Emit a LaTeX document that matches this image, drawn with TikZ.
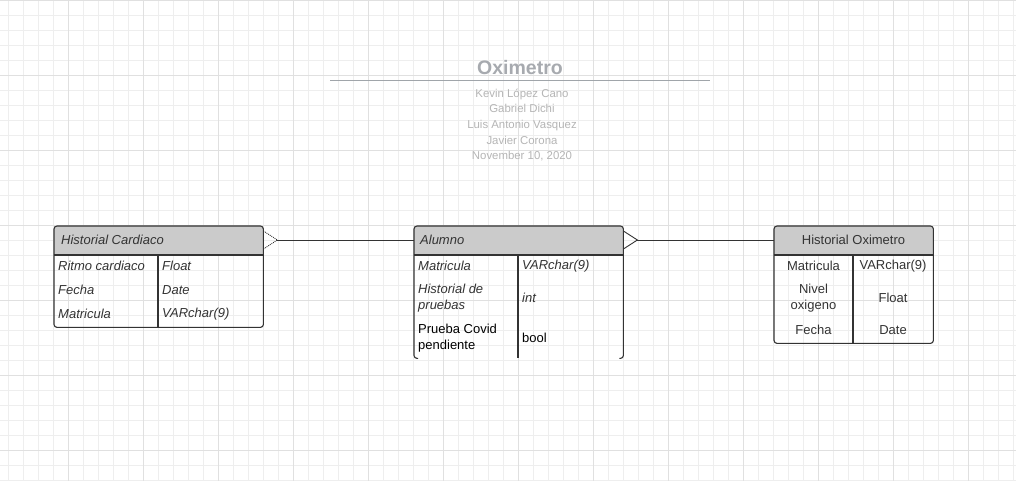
\documentclass[tikz,border=0pt]{standalone}
\usepackage{fontspec}
\setmainfont{Liberation Sans}
\usetikzlibrary{positioning,calc}

\definecolor{gridminor}{HTML}{EEEEEE}
\definecolor{gridmajor}{HTML}{E0E0E0}
\definecolor{headgray}{HTML}{CBCBCB}
\definecolor{inkgray}{HTML}{333333}
\definecolor{titlegray}{HTML}{A7AAAF}
\definecolor{rulegray}{HTML}{A0A5AA}
\definecolor{authgray}{HTML}{B5B5B5}

\begin{document}
\begin{tikzpicture}[x=1pt,y=-1pt,
  entity/.style={inner sep=0pt,anchor=north west},
  boxline/.style={draw=inkgray,line width=1.1pt},
  hlabel/.style={text=inkgray,font=\fontsize{13}{16}\selectfont\itshape,inner sep=0pt,anchor=west},
  attr/.style={text=inkgray,font=\fontsize{13}{16}\selectfont\itshape,inner sep=0pt,anchor=west,align=left},
  plain/.style={text=black,font=\fontsize{13}{16}\selectfont,inner sep=0pt,anchor=west,align=left},
  cattr/.style={text=inkgray,font=\fontsize{13}{16}\selectfont,inner sep=0pt,align=center},
  rel/.style={draw=inkgray,line width=1pt},
  foot/.style={draw=inkgray,line width=0.9pt}]

\useasboundingbox (0,0) rectangle (1016,481);
\fill[white] (0,0) rectangle (1016,481);

% grid paper
\foreach \x in {8,23,...,1013} \draw[gridminor,line width=0.6pt] (\x,0) -- (\x,481);
\foreach \y in {15,30,...,480} \draw[gridminor,line width=0.6pt] (0,\y) -- (1016,\y);
\foreach \x in {68,143,...,1013} \draw[gridmajor,line width=0.8pt] (\x,0) -- (\x,481);
\foreach \y in {0,75,...,480} \draw[gridmajor,line width=0.8pt] (0,\y) -- (1016,\y);

% title block
\node[text=titlegray,font=\fontsize{19.5}{22}\selectfont\bfseries,inner sep=0pt] (titulo) at (520,68) {Oximetro};
\draw[rulegray,line width=1pt] (330,81) -- (710,81);
\node[text=authgray,font=\fontsize{11.4}{15.7}\selectfont,align=center,inner sep=0pt] (autores) at (522,125)
  {Kevin López Cano\\Gabriel Dichi\\Luis Antonio Vasquez\\Javier Corona\\November 10, 2020};

% entities
\node[entity,minimum width=209pt,minimum height=101pt] (cardiaco) at (54,226) {};
\node[entity,minimum width=209pt,minimum height=132pt] (alumno) at (414,226) {};
\node[entity,minimum width=159pt,minimum height=117pt] (oximetro) at (774,226) {};

\foreach \e/\d in {cardiaco/104,alumno/104,oximetro/79}{
  \fill[headgray] ($(\e.north west)+(0,29)$) [rounded corners=3pt] -- (\e.north west)
    -- (\e.north east) [sharp corners] -- ($(\e.north east)+(0,29)$) -- cycle;
  \draw[boxline] ($(\e.north west)+(0,29)$) -- ($(\e.north east)+(0,29)$);
  \draw[boxline] ($(\e.north west)+(\d,29)$) -- ($(\e.south west)+(\d,0)$);
}
\draw[boxline,rounded corners=3pt] (cardiaco.north west) rectangle (cardiaco.south east);
\draw[boxline,rounded corners=3pt] (oximetro.north west) rectangle (oximetro.south east);
\draw[boxline,rounded corners=3pt] ($(alumno.south west)+(4,0)$) -- (alumno.south west)
  -- (alumno.north west) -- (alumno.north east) -- (alumno.south east) -- ($(alumno.south east)+(-4,0)$);

% Historial Cardiaco
\node[hlabel] (cardiaco-t) at (61,240) {Historial Cardiaco};
\node[attr] (c-ritmo) at (58,266) {Ritmo cardiaco};
\node[attr] (c-fecha) at (58,290) {Fecha};
\node[attr] (c-matr) at (58,314) {Matricula};
\node[attr] (c-ritmo-t) at (162,266) {Float};
\node[attr] (c-fecha-t) at (162,290) {Date};
\node[attr] (c-matr-t) at (162,314) {VARchar(9)};

% Alumno
\node[hlabel] (alumno-t) at (420,240) {Alumno};
\node[attr] (a-matr) at (418,266) {Matricula};
\node[attr] (a-hist) at (418,298) {Historial de\\pruebas};
\node[plain] (a-covid) at (418,338) {Prueba Covid\\pendiente};
\node[attr] (a-matr-t) at (522,266) {VARchar(9)};
\node[attr] (a-hist-t) at (522,298) {int};
\node[plain] (a-covid-t) at (522,338) {bool};

% Historial Oximetro
\node[cattr] (oximetro-t) at (853.5,240) {Historial Oximetro};
\node[cattr] (o-matr) at (813.5,266) {Matricula};
\node[cattr] (o-nivel) at (813.5,298) {Nivel\\oxigeno};
\node[cattr] (o-fecha) at (813.5,330) {Fecha};
\node[cattr] (o-matr-t) at (893,266) {VARchar(9)};
\node[cattr] (o-nivel-t) at (893,298) {Float};
\node[cattr] (o-fecha-t) at (893,330) {Date};

% relationships (crow's foot)
\coordinate (cardiaco-c) at ($(cardiaco.north east)+(0,14)$);
\coordinate (alumno-w) at ($(alumno.north west)+(0,14)$);
\coordinate (alumno-e) at ($(alumno.north east)+(0,14)$);
\coordinate (oximetro-w) at ($(oximetro.north west)+(0,14)$);
\coordinate (cf1) at ($(cardiaco-c)+(14,0)$);
\coordinate (cf2) at ($(alumno-e)+(14,0)$);

\draw[foot,densely dotted] ($(cardiaco-c)+(0,-9)$) -- (cf1) -- ($(cardiaco-c)+(0,9)$);
\draw[rel] (cf1) -- (alumno-w);
\draw[foot] ($(alumno-e)+(0,-9)$) -- (cf2) -- ($(alumno-e)+(0,9)$);
\draw[rel] (cf2) -- (oximetro-w);
\end{tikzpicture}
\end{document}
